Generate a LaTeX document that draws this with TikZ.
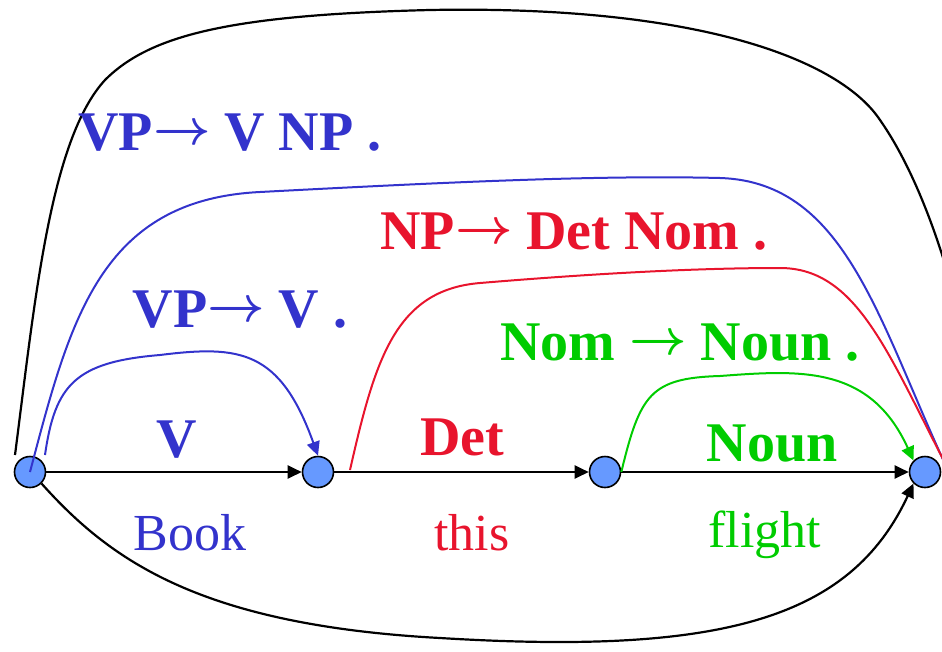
\documentclass[tikz,border=0pt]{standalone}
\usepackage{graphicx}
\usepackage{fontspec}
\setmainfont{Liberation Serif}
\usetikzlibrary{arrows.meta}
\definecolor{vpblue}{RGB}{51,51,204}
\definecolor{npred}{RGB}{232,20,45}
\definecolor{nomgreen}{RGB}{0,204,0}
\definecolor{dotfill}{RGB}{102,153,255}
\newcommand{\ruleto}{\raisebox{6pt}{\fontsize{10}{12}\selectfont\boldmath\scalebox{5}{$\rightarrow$}}}

\begin{document}
\begin{tikzpicture}[x=1pt,y=-1pt,
	state/.style={circle, draw=black, line width=1.6pt, fill=dotfill, minimum size=31pt, inner sep=0pt},
	edge/.style={line width=2.2pt, -{Triangle[length=14pt,width=13pt]}},
	rule/.style={font=\fontsize{56}{60}\selectfont\bfseries},
	word/.style={font=\fontsize{52}{56}\selectfont}]
	\useasboundingbox (0,0) rectangle (942,651);
	% the four chart positions
	\node[state] (p0) at (30,472) {};
	\node[state] (p1) at (318,472) {};
	\node[state] (p2) at (605,472) {};
	\node[state] (p3) at (925,472) {};
	% lexical edges along the baseline
	\draw[edge] (p0) -- (p1);
	\draw[edge] (p1) -- (p2);
	\draw[edge] (p2) -- (p3);
	\node[rule, text=vpblue] (lv) at (177,440) {V};
	\node[rule, text=npred] (ldet) at (462,437) {Det};
	\node[rule, text=nomgreen] (lnoun) at (772,443) {Noun};
	\node[word, text=vpblue] (wbook) at (190,533) {Book};
	\node[word, text=npred] (wthis) at (472,533) {this};
	\node[word, text=nomgreen] (wflight) at (765,535) {flight};
	% outer black arcs
	\coordinate (otop) at (15,455);
	\coordinate (oend) at (965,340);
	\draw[line width=2.2pt] (otop) .. controls (35,300) and (50,140) .. (105,80)
		.. controls (150,35) and (230,15) .. (430,10)
		.. controls (700,5) and (840,60) .. (880,120)
		.. controls (915,170) and (945,250) .. (oend);
	\draw[edge] (p0.south east) .. controls (110,560) and (200,625) .. (440,638)
		.. controls (720,655) and (850,620) .. (p3.south west);
	% VP -> V .
	\coordinate (vpa) at (45,455);
	\draw[line width=2pt, vpblue, -{Triangle[length=14pt,width=13pt]}] (vpa)
		.. controls (55,385) and (75,362) .. (160,355)
		.. controls (240,345) and (280,350) .. (p1.north);
	\node[rule, text=vpblue] (rvp) at (240,310) {VP\ruleto\ V .};
	% VP -> V NP .
	\coordinate (vpend) at (955,485);
	\draw[line width=2pt, vpblue] (p0.center)
		.. controls (70,320) and (100,200) .. (260,192)
		.. controls (450,182) and (600,175) .. (720,178)
		.. controls (850,182) and (880,330) .. (vpend);
	\node[rule, text=vpblue] (rvpnp) at (230,133) {VP\ruleto\ V NP .};
	% NP -> Det Nom .
	\coordinate (npa) at (350,470);
	\coordinate (npend) at (955,482);
	\draw[line width=2pt, npred] (npa)
		.. controls (375,360) and (395,290) .. (480,283)
		.. controls (600,273) and (700,268) .. (780,268)
		.. controls (860,268) and (890,360) .. (npend);
	\node[rule, text=npred] (rnp) at (574,232) {NP\ruleto\ Det Nom .};
	% Nom -> Noun .
	\draw[line width=2pt, nomgreen, -{Triangle[length=14pt,width=13pt]}] (p2.east)
		.. controls (640,395) and (650,378) .. (720,376)
		.. controls (800,370) and (870,365) .. (p3.north west);
	\node[rule, text=nomgreen] (rnom) at (680,343) {Nom \ruleto\ Noun .};
\end{tikzpicture}
\end{document}
